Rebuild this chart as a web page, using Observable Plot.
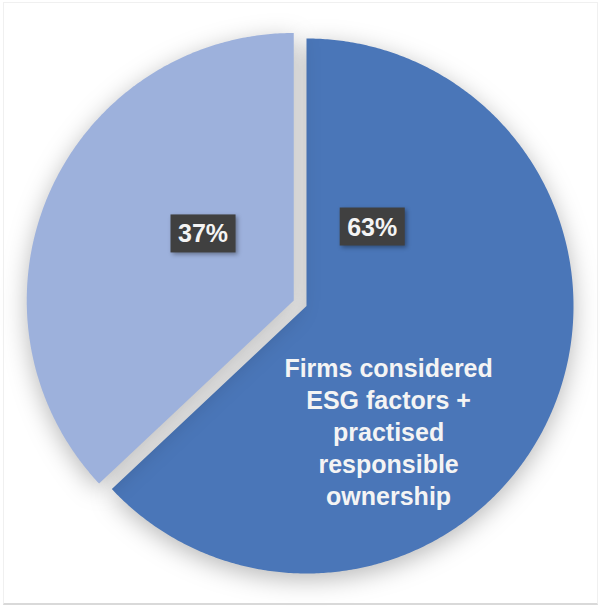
<!DOCTYPE html>
<html>
<head>
<meta charset="utf-8">
<script src="https://cdn.jsdelivr.net/npm/d3@7"></script>
<script src="https://cdn.jsdelivr.net/npm/@observablehq/plot@0.6"></script>
<style>
  html, body { margin: 0; padding: 0; background: #fff; }
  #chart { position: absolute; left: 0; top: 0; }
  #frame { position: absolute; left: 3px; top: 2px; width: 595px; height: 603px; box-sizing: border-box;
           border: 1px solid #f0f0f0; border-bottom: 2px solid #d9d9d9; pointer-events: none; }
  .slice-shadow path { filter: drop-shadow(0px 6px 12px rgba(0,0,0,0.28)); }
  .label-box { filter: drop-shadow(2px 2px 2px rgba(0,0,0,0.35)); }
</style>
</head>
<body>
<div id="chart"></div>
<div id="frame"></div>
<script>
// ---- data ----
const categories = ["Firms considered ESG factors + practised responsible ownership", "Other firms"];
const shares = [63, 37];
const valueLabels = ["63%", "37%"];
const categoryLabelLines = ["Firms considered", "ESG factors +", "practised", "responsible", "ownership"];

// ---- styles / layout ----
const sliceColors = ["#4a76b8", "#9db1dc"];
const explodedCategory = categories[1];
const explodeDistance = 0.052;               // fraction of radius
const valueLabelPlacement = [{angle: 40, radius: 0.383}, {angle: 306, radius: 0.42}];
const categoryLabelPlacement = {angle: 146.7, radius: 0.56};
const W = 602, H = 607;

// ---- geometry through d3.pie ----
const arcs = d3.pie().sort(null).value(d => d)(shares);
const sliceRows = [];
const sliceCenters = [];
arcs.forEach((p, i) => {
  const cat = categories[i];
  const mid = (p.startAngle + p.endAngle) / 2;
  const off = cat === explodedCategory ? explodeDistance : 0;
  const ox = off * Math.sin(mid), oy = off * Math.cos(mid);
  sliceCenters.push({ox, oy});
  sliceRows.push({cat, x: ox, y: oy});
  const n = Math.ceil((p.endAngle - p.startAngle) / (Math.PI / 360));
  for (let k = 0; k <= n; k++) {
    const a = p.startAngle + (p.endAngle - p.startAngle) * k / n;
    sliceRows.push({cat, x: ox + Math.sin(a), y: oy + Math.cos(a)});
  }
  sliceRows.push({cat, x: ox, y: oy});
});

const rad = d => d * Math.PI / 180;
const valueRows = valueLabels.map((t, i) => {
  const pl = valueLabelPlacement[i], c = sliceCenters[i];
  return {text: t, x: c.ox + pl.radius * Math.sin(rad(pl.angle)), y: c.oy + pl.radius * Math.cos(rad(pl.angle))};
});
const catRows = [{
  text: categoryLabelLines.join("\n"),
  x: sliceCenters[0].ox + categoryLabelPlacement.radius * Math.sin(rad(categoryLabelPlacement.angle)),
  y: sliceCenters[0].oy + categoryLabelPlacement.radius * Math.cos(rad(categoryLabelPlacement.angle))
}];

const chart = Plot.plot({
  width: W,
  height: H,
  marginLeft: 39,
  marginRight: 29,
  marginTop: 38,
  marginBottom: 34,
  style: {background: "none", overflow: "visible"},
  x: {domain: [-1, 1], axis: null},
  y: {domain: [-1, 1], axis: null},
  color: {domain: categories, range: sliceColors},
  marks: [
    Plot.line(sliceRows, {x: "x", y: "y", z: "cat", fill: "cat", stroke: "none", curve: "linear"}),
    Plot.text(valueRows, {x: "x", y: "y", text: "text", fill: "#f4f4f4", fontSize: 25, fontWeight: "bold",
      fontFamily: "Liberation Sans, Arial, sans-serif"}),
    Plot.text(catRows, {x: "x", y: "y", text: "text", fill: "#f4f4f4", fontSize: 25, fontWeight: "bold",
      lineHeight: 1.28, fontFamily: "Liberation Sans, Arial, sans-serif"})
  ]
});
document.getElementById("chart").appendChild(chart);

// shadows on slices
const svg = d3.select(chart.tagName.toLowerCase() === "svg" ? chart : chart.querySelector("svg"));
svg.selectAll('g[aria-label="line"]').classed("slice-shadow", true);

// dark boxes behind value labels
const textGroups = svg.selectAll('g[aria-label="text"]').nodes();
if (textGroups.length) {
  const g = textGroups[0];
  d3.select(g).selectAll("text").each(function () {
    const bb = this.getBBox();
    const padX = 7.5, padY = 5.5;
    const r = document.createElementNS("http://www.w3.org/2000/svg", "rect");
    r.setAttribute("x", bb.x - padX);
    r.setAttribute("y", bb.y - padY + 0.5);
    r.setAttribute("width", bb.width + 2 * padX);
    r.setAttribute("height", bb.height + 2 * padY - 1);
    r.setAttribute("fill", "#404040");
    r.setAttribute("class", "label-box");
    const tr = this.getAttribute("transform");
    if (tr) r.setAttribute("transform", tr);
    g.insertBefore(r, this);
  });
}
</script>
</body>
</html>
